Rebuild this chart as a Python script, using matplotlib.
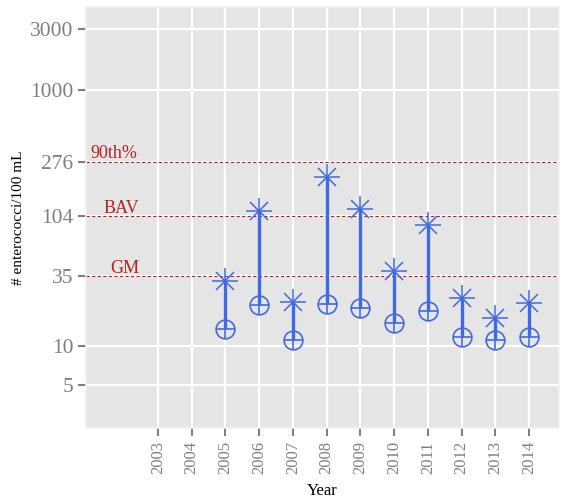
import numpy as np
import matplotlib.pyplot as plt

# Annual enterococci summary per year (log scale)
years = [2005, 2006, 2007, 2008, 2009, 2010, 2011, 2012, 2013, 2014]
max_counts = [32, 114, 22, 208, 117, 38.7, 88, 23.6, 16.6, 21.6]
geo_means = [13.6, 20.9, 11.1, 21.3, 19.7, 15.0, 18.9, 11.8, 11.1, 11.8]

year_ticks = list(range(2003, 2015))
y_ticks = [5, 10, 35, 104, 276, 1000, 3000]

# reference levels
ref_values = [276, 104, 35]
ref_labels = ["90th%", "BAV", "GM"]
ref_label_x = [2001.7, 2001.9, 2002.02]

blue = "#4169E1"
red = "#B22222"
grey_text = "#7F7F7F"
serif = ["Liberation Serif", "DejaVu Serif"]

fig = plt.figure(figsize=(5.64, 4.98), dpi=100)
ax = fig.add_axes([86 / 564, 1 - 428 / 498, (559 - 86) / 564, (428 - 7) / 498])
ax.set_facecolor("#E5E5E5")
ax.set_yscale("log")
ax.set_ylim(2.29, 4446)
ax.set_xlim(2000.865, 2014.89)

ax.set_yticks(y_ticks)
ax.set_yticklabels([str(v) for v in y_ticks])
ax.minorticks_off()
ax.set_xticks(year_ticks)
ax.set_xticklabels([str(y) for y in year_ticks], rotation=90)

ax.grid(True, color="white", linewidth=1.6, zorder=0)
ax.set_axisbelow(True)
for s in ax.spines.values():
    s.set_color("#F2F2F2")
    s.set_linewidth(1.2)

ax.tick_params(axis="both", colors="#7F7F7F", length=6, width=1.5)
ax.tick_params(axis="y", pad=3)
for lab in ax.get_yticklabels():
    lab.set_fontfamily(serif)
    lab.set_fontsize(15.5)
    lab.set_color(grey_text)
for lab in ax.get_xticklabels():
    lab.set_fontfamily(serif)
    lab.set_fontsize(12)
    lab.set_color(grey_text)

# reference lines with labels
for val, lab, lx in zip(ref_values, ref_labels, ref_label_x):
    ax.axhline(val, color=red, linewidth=0.8, linestyle=(0, (3, 2)), zorder=2)
    ax.annotate(lab, (lx, val), xytext=(0, -0.5), textcoords="offset points",
                ha="center", va="bottom", color=red, fontsize=13,
                fontfamily=serif)

# range segments from geometric mean to max
ax.vlines(years, geo_means, max_counts, color=blue, linewidth=2.4, zorder=3)

# asterisk for the max
ax.plot(years, max_counts, linestyle="none", marker="+", markersize=19,
        markeredgewidth=1.1, color=blue, zorder=4)
ax.plot(years, max_counts, linestyle="none", marker="x", markersize=13.5,
        markeredgewidth=1.1, color=blue, zorder=4)

# circle-plus for the geometric mean
ax.plot(years, geo_means, linestyle="none", marker="o", markersize=13.5,
        markerfacecolor="none", markeredgewidth=1.2, color=blue, zorder=4)
ax.plot(years, geo_means, linestyle="none", marker="+", markersize=13.5,
        markeredgewidth=1.2, color=blue, zorder=4)

ax.set_ylabel("# enterococci/100 mL", fontfamily=serif, fontsize=11, labelpad=4)
ax.set_xlabel("Year", fontfamily=serif, fontsize=12, labelpad=6)

fig.savefig("out.png", dpi=100)
